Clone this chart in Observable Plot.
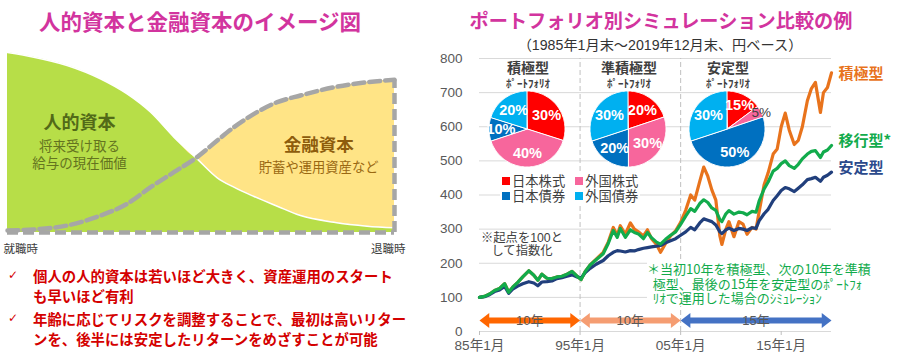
<!DOCTYPE html>
<html><head><meta charset="utf-8">
<script src="https://cdn.jsdelivr.net/npm/d3@7"></script>
<script src="https://cdn.jsdelivr.net/npm/@observablehq/plot@0.6"></script>
<style>
body{margin:0;background:#fff;font-family:"Noto Sans CJK JP",sans-serif;}
#root{position:relative;width:900px;height:360px;overflow:hidden;background:#fff;}
.abs{position:absolute;white-space:nowrap;}
.ctr{transform:translateX(-50%);text-align:center;}
</style></head><body><div id="root"></div>
<script>
// ---------- data: left concept diagram ----------
const lifeStage = [0, 0.068, 0.154, 0.240, 0.309, 0.370, 0.430, 0.490, 0.542, 0.585, 0.637, 0.697, 0.757, 0.843, 0.929, 1.0];
const humanCapital = [100, 97.4, 92.8, 85.4, 77.0, 66.8, 53.0, 40.9, 30.4, 25.2, 20.0, 14.6, 9.4, 5.7, 3.5, 2.6];
const financialCapital = [1.1, 1.7, 3.9, 9.4, 15.9, 25.2, 33.5, 41.9, 51.1, 58.5, 65.9, 72.4, 76.1, 80.7, 83.5, 84.8];

// ---------- data: simulation lines ----------
const dates = [1985.0,1985.5,1986.0,1986.5,1987.0,1987.5,1987.9,1988.3,1988.8,1989.3,1989.9,1990.4,1990.8,1991.2,1991.7,1992.2,1992.7,1993.2,1993.7,1994.2,1994.7,1995.1,
 1995.5,1996.0,1996.6,1997.3,1997.8,1998.3,1998.7,1999.0,1999.5,2000.0,2000.4,2000.8,2001.3,2001.7,2002.1,2002.6,2003.0,2003.5,2004.0,2004.5,2005.0,
 2005.5,2006.0,2006.4,2006.9,2007.3,2007.7,2008.1,2008.5,2008.9,2009.1,2009.5,2009.8,2010.3,2010.8,2011.2,2011.6,2012.1,2012.5,2012.8,2013.3,2013.7,
 2014.2,2014.6,2015.0,2015.4,2015.8,2016.3,2016.7,2017.1,2017.6,2018.0,2018.4,2018.9,2019.2,2019.6,2020.0];
const aggressive = [100,103,110,120,126,140,115,130,144,160,178,165,150,168,156,155,160,162,168,176,162,152,
 175,195,212,232,262,305,282,310,285,318,300,292,280,298,272,255,232,258,280,295,320,
 355,400,385,440,482,455,415,385,280,255,300,322,278,322,315,285,305,300,350,430,465,
 520,535,600,640,590,548,560,600,676,712,730,642,700,715,758];
const transition = [100,103,110,120,126,140,115,130,144,160,178,165,150,168,156,155,160,162,168,176,162,152,
 175,195,210,228,258,296,276,302,276,298,290,286,272,290,275,262,256,270,282,292,314,
 338,360,352,375,386,378,362,355,328,322,345,354,344,350,348,342,352,350,382,418,438,
 470,478,492,500,486,478,490,506,520,528,530,510,526,532,545];
const stable = [100,102,108,117,122,132,112,124,133,140,146,142,134,145,146,148,155,158,162,166,160,157,
 172,185,197,208,222,232,237,236,233,237,236,240,244,246,248,250,252,260,266,272,282,
 292,305,298,318,330,326,322,312,292,287,298,303,296,302,300,296,304,302,324,345,358,
 384,398,413,422,418,410,420,430,445,448,452,440,452,458,467];
const seriesNames = ["積極型", "移行型*", "安定型"];
const yTicks = [0,100,200,300,400,500,600,700,800];
const xTicks = [1985, 1995, 2005, 2015];
const periodStarts = [1985, 1995, 2005];
const periodEnds = [1995, 2005, 2020];
const periodLabels = ["10年", "10年", "15年"];

// ---------- data: portfolios ----------
const portfolioNames = ["積極型", "準積極型", "安定型"];
const assetNames = ["日本株式", "外国株式", "日本債券", "外国債券"];
const sharesAggressive = [30, 40, 10, 20];
const sharesSemi = [20, 30, 20, 30];
const sharesStable = [15, 5, 50, 30];

// ---------- styles ----------
const assetColors = ["#ff0000", "#f7669c", "#0070c0", "#00b0f0"];
const periodColors = ["#ff6600", "#f59d72", "#4472c4"];
const cOrange = "#e8731c", cGreen = "#12ab4c", cNavy = "#213f7c";
const root = document.getElementById("root");
function addDiv(html, css, cls="abs"){const d=document.createElement("div");d.className=cls;d.innerHTML=html;d.style.cssText=css;root.appendChild(d);return d;}
function place(svg, left, top){svg.style.position="absolute";svg.style.left=left+"px";svg.style.top=top+"px";root.appendChild(svg);}

// ---------- left diagram ----------
const life = lifeStage.map((x,i)=>({x, h: humanCapital[i], f: financialCapital[i]}));
const dash = {stroke:"#a6a6a6", strokeWidth:4.5, strokeDasharray:"11,5"};
const left = Plot.plot({
  width: 410, height: 220, marginLeft: 7, marginRight: 16, marginTop: 12, marginBottom: 28,
  x: {domain:[0,1], axis:null}, y: {domain:[0,100], axis:null},
  style: {background:"transparent", overflow:"visible", fontFamily:"'Noto Sans CJK JP',sans-serif"},
  marks: [
    Plot.areaY(life, {x:"x", y:"h", fill:"#b7de48", curve:"monotone-x"}),
    Plot.areaY(life, {x:"x", y1:"h", y2:d=>Math.max(d.h,d.f), fill:"#ffe486", curve:"monotone-x"}),
    Plot.line(life, {x:"x", y:"h", stroke:"white", strokeWidth:1.5, curve:"monotone-x"}),
    Plot.line(life, {x:"x", y:"f", curve:"monotone-x", ...dash}),
    Plot.ruleY([0], {x1:0, x2:1, ...dash}),
    Plot.ruleX([1], {y1:0, y2:financialCapital[financialCapital.length-1], ...dash}),
    Plot.text(["人的資本"], {x:0.186, y:60.6, text:d=>d, fontSize:18, fontWeight:"bold", fill:"#526a18"}),
    Plot.text(["将来受け取る"], {x:0.186, y:47.8, text:d=>d, fontSize:13.5, fill:"#64741f"}),
    Plot.text(["給与の現在価値"], {x:0.186, y:38.3, text:d=>d, fontSize:13.5, fill:"#64741f"}),
    Plot.text(["金融資本"], {x:0.804, y:48.3, text:d=>d, fontSize:17.5, fontWeight:"bold", fill:"#8d5c0c"}),
    Plot.text(["貯蓄や運用資産など"], {x:0.804, y:36.1, text:d=>d, fontSize:13.3, fill:"#9a6812"}),
    Plot.text(["就職時"], {x:0, y:0, dx:-4, dy:17, textAnchor:"start", text:d=>d, fontSize:11.5, fill:"#404040"}),
    Plot.text(["退職時"], {x:1, y:0, dx:11, dy:17, textAnchor:"end", text:d=>d, fontSize:11.5, fill:"#404040"})
  ]
});
place(left, 0, 40);

// ---------- main chart ----------
const rows = dates.map((t,i)=>({t, a:aggressive[i], m:transition[i], s:stable[i]}));
const last = rows[rows.length-1];
const ends = [
  {t:last.t, v:last.a, name:seriesNames[0], color:cOrange},
  {t:last.t, v:last.m, name:seriesNames[1], color:cGreen},
  {t:last.t, v:last.s, name:seriesNames[2], color:"#2b4a8c"}
];
const periods = periodStarts.map((s,i)=>({start:s, end:periodEnds[i], label:periodLabels[i], color:periodColors[i]}));
const arrowY = 32;
const headRight = {draw(ctx,size){const r=Math.sqrt(size/Math.PI);ctx.moveTo(0,0);ctx.lineTo(-1.3*r,-r);ctx.lineTo(-1.3*r,r);ctx.closePath();}};
const headLeft = {draw(ctx,size){const r=Math.sqrt(size/Math.PI);ctx.moveTo(0,0);ctx.lineTo(1.3*r,-r);ctx.lineTo(1.3*r,r);ctx.closePath();}};
const labelStyle = {x:"t", y:"v", text:"name", fill:"color", dx:7, textAnchor:"start", fontSize:15, fontWeight:"bold", fontFamily:"'Noto Sans CJK JP',sans-serif"};
const main = Plot.plot({
  width: 480, height: 310, marginLeft: 59, marginRight: 69, marginTop: 8, marginBottom: 29,
  x: {domain:[1985,2020]}, y: {domain:[0,800]},
  color: {type:"identity"},
  style: {background:"transparent", overflow:"visible", fontFamily:"'Liberation Sans','Noto Sans CJK JP',sans-serif", fontSize:"13.5px", color:"#595959"},
  marks: [
    Plot.gridY(yTicks.slice(1), {stroke:"#d9d9d9", strokeOpacity:1}),
    Plot.ruleX(periodEnds.slice(0,2), {y1:0, y2:800, stroke:"#c0c0c0", strokeDasharray:"5,3"}),
    Plot.ruleY([0], {stroke:"#d9d9d9"}),
    Plot.axisY(yTicks, {tickSize:0, tickPadding:17, label:null}),
    Plot.axisX(xTicks, {tickSize:4, tickPadding:5, label:null, stroke:"#bfbfbf", fontSize:13.6, tickFormat:d=>String(d).slice(2)+"年1月"}),
    Plot.line(rows, {x:"t", y:"a", stroke:cOrange, strokeWidth:3.2}),
    Plot.line(rows, {x:"t", y:"s", stroke:cNavy, strokeWidth:3.2}),
    Plot.line(rows, {x:"t", y:"m", stroke:cGreen, strokeWidth:3.2}),
    Plot.text(ends.slice(0,1), {...labelStyle, dy:1}),
    Plot.text(ends.slice(1), {...labelStyle, dy:-4}),
    Plot.ruleY(periods, {y:()=>arrowY, x1:"start", x2:"end", stroke:"color", strokeWidth:6, insetLeft:7, insetRight:7}),
    Plot.dot(periods, {x:"end", y:()=>arrowY, symbol:headRight, r:7.5, fill:"color"}),
    Plot.dot(periods, {x:"start", y:()=>arrowY, symbol:headLeft, r:7.5, fill:"color"}),
    Plot.text(periods, {x:d=>(d.start+d.end)/2, y:()=>arrowY, text:"label", fill:"#595959", fontSize:13})
  ]
});
place(main, 420, 50);

// ---------- titles and texts ----------
addDiv("人的資本と金融資本のイメージ図", "left:200px;top:5px;font-size:21.5px;font-weight:700;color:#d2349e;", "abs ctr");
addDiv("ポートフォリオ別シミュレーション比較の例", "left:661px;top:6px;font-size:19.2px;font-weight:700;color:#d2349e;", "abs ctr");
addDiv("（1985年1月末～2019年12月末、円ベース）", "left:660px;top:34px;font-size:14.2px;color:#333;font-family:'Liberation Sans','Noto Sans CJK JP';", "abs ctr");

const bul = "font-size:14.4px;font-weight:700;color:#d40000;line-height:20px;";
addDiv("✓", "left:8px;top:268px;font-size:12px;color:#d40000;font-family:'DejaVu Sans';");
addDiv("個人の人的資本は若いほど大きく、資産運用のスタート<br>も早いほど有利", "left:33px;top:266px;"+bul);
addDiv("✓", "left:8px;top:311px;font-size:12px;color:#d40000;font-family:'DejaVu Sans';");
addDiv("年齢に応じてリスクを調整することで、最初は高いリター<br>ンを、後半には安定したリターンをめざすことが可能", "left:33px;top:309px;"+bul);

// legend
const sq = c=>`<span style="display:inline-block;width:8px;height:8px;background:${c};margin-right:2px;vertical-align:1px"></span>`;
addDiv(`<div>${sq(assetColors[0])}${assetNames[0]}<span style="display:inline-block;width:10px"></span>${sq(assetColors[1])}${assetNames[1]}</div><div>${sq(assetColors[2])}${assetNames[2]}<span style="display:inline-block;width:10px"></span>${sq(assetColors[3])}${assetNames[3]}</div>`,
  "left:500px;top:173px;font-size:13.3px;color:#404040;line-height:15px;background:#fff;padding:0 2px;");
addDiv("※起点を100と<br>して指数化", "left:522px;top:232px;font-size:12.3px;color:#404040;line-height:13px;font-family:'Liberation Sans','Noto Sans CJK JP';", "abs ctr");
addDiv("＊当初10年を積極型、次の10年を準積<br>&nbsp;&nbsp;極型、最後の15年を安定型のﾎﾟｰﾄﾌｫ<br>&nbsp;&nbsp;ﾘｵで運用した場合のｼﾐｭﾚｰｼｮﾝ",
  "left:647px;top:262px;font-size:13px;color:#12ab4c;line-height:14.5px;background:#fff;padding-right:2px;");

// ---------- pies ----------
function pieData(shares){
  let acc=0; const pts=[], labs=[];
  shares.forEach((v,i)=>{
    const a0=acc/100*2*Math.PI, a1=(acc+v)/100*2*Math.PI; acc+=v;
    const n=Math.max(2,Math.ceil((a1-a0)/(Math.PI/90)));
    for(let k=0;k<=n;k++){const t=a0+(a1-a0)*k/n;pts.push({key:i,x:Math.sin(t),y:Math.cos(t),color:assetColors[i]});}
    const mid=(a0+a1)/2, small=v<10, rr=small?1.0:(v<=15?0.7:0.62);
    labs.push({x:rr*Math.sin(mid), y:rr*Math.cos(mid), text:v+"%", small});
  });
  return {pts, labs};
}
const pieShares = [sharesAggressive, sharesSemi, sharesStable];
const pieCenters = [527, 628, 727];
pieShares.forEach((sh,j)=>{
  const {pts,labs}=pieData(sh);
  const R=38, W=90;
  const p = Plot.plot({
    width:W, height:W, margin:0,
    x:{domain:[-W/2/R, W/2/R], axis:null}, y:{domain:[-W/2/R, W/2/R], axis:null},
    color:{type:"identity"},
    style:{background:"transparent", overflow:"visible", fontFamily:"'Liberation Sans',sans-serif"},
    marks:[
      Plot.area(pts, {x1:"x", y1:"y", x2:()=>0, y2:()=>0, z:"key", fill:"color", stroke:"white", strokeWidth:1}),
      Plot.text(labs.filter(d=>!d.small), {x:"x", y:"y", text:"text", fill:"white", fontSize:14.5, fontWeight:"bold"}),
      Plot.text(labs.filter(d=>d.small), {x:"x", y:"y", text:"text", fill:"#404040", fontSize:13.5})
    ]
  });
  place(p, pieCenters[j]-W/2, 129-W/2);
  addDiv(portfolioNames[j], `left:${pieCenters[j]+1}px;top:57px;font-size:14px;font-weight:700;color:#404040;`, "abs ctr");
  addDiv("ﾎﾟｰﾄﾌｫﾘｵ", `left:${pieCenters[j]+1}px;top:75px;font-size:11px;font-weight:700;color:#404040;`, "abs ctr");
});
</script></body></html>
